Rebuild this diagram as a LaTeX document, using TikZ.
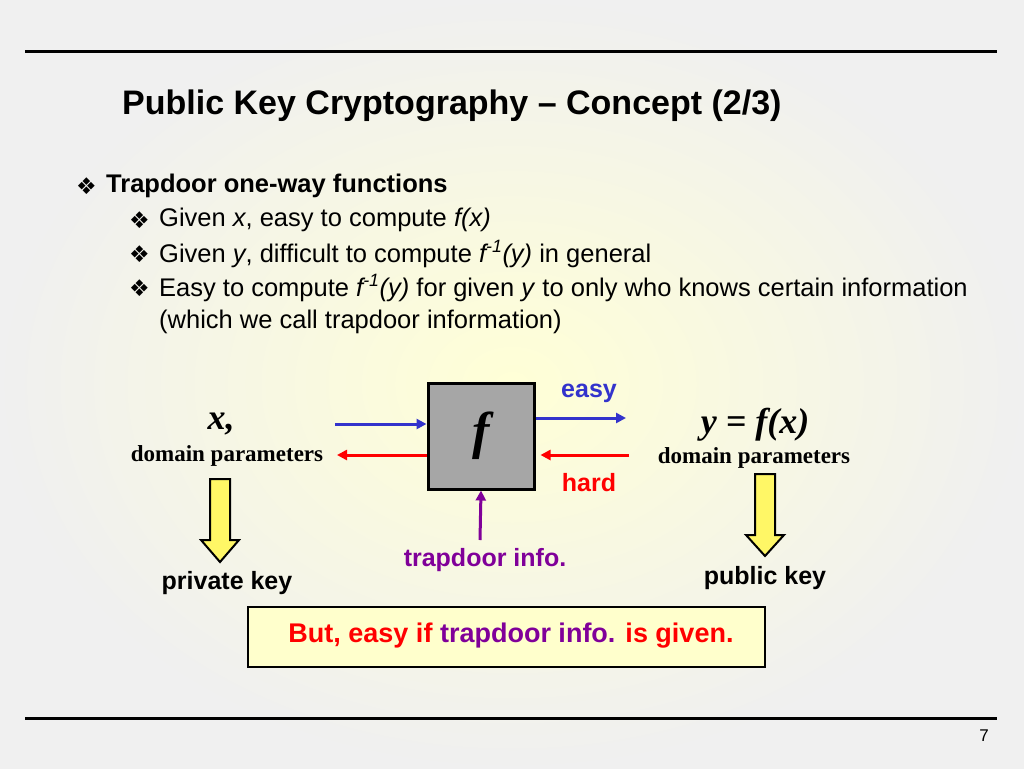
\documentclass[tikz,border=0pt]{standalone}
\usepackage{fontspec}
\setmainfont{Liberation Sans}
\newfontfamily\serifb{Liberation Serif}
\newfontfamily\dejavu{DejaVu Sans}
\usetikzlibrary{arrows.meta}
\definecolor{myblue}{HTML}{3333CC}
\definecolor{myred}{HTML}{FF0000}
\definecolor{mypurple}{HTML}{800099}
\definecolor{boxgray}{HTML}{A6A6A6}
\definecolor{paleyellow}{HTML}{FFFFCC}
\begin{document}
\begin{tikzpicture}[x=1pt,y=-1pt,
  txt/.style={anchor=west,inner sep=0,font=\fontsize{25.5}{30}\selectfont},
  bul/.style={anchor=west,inner sep=0,font=\dejavu\fontsize{23}{26}\selectfont},
  arr/.style={line width=3pt,-{Triangle[length=10pt,width=10pt]}},
  yarrow/.style={draw=black,line width=2pt,fill=yellow!60!white,line join=miter},
  lab/.style={font=\bfseries\fontsize{25}{30}\selectfont,inner sep=0},
  dp/.style={font=\serifb\bfseries\fontsize{23}{27}\selectfont,inner sep=0}]
\useasboundingbox (0,0) rectangle (1024,768);
\shade[inner color=paleyellow!80!white,outer color=gray!12] (0,0) rectangle (1024,768);
\draw[line width=3pt] (25,52) -- (997,52);
\draw[line width=3pt] (25,718) -- (997,718);
\node[anchor=west,inner sep=0,font=\bfseries\fontsize{34}{40}\selectfont] (title) at (122,106) {Public Key Cryptography -- Concept (2/3)};
\node[bul] (b0) at (76,186) {❖};
\node[txt,font=\bfseries\fontsize{25.5}{30}\selectfont] (t0) at (106,186) {Trapdoor one-way functions};
\node[bul] (b1) at (129,220) {❖};
\node[txt] (t1) at (159,220) {Given \textit{x}, easy to compute \textit{f(x)}};
\node[bul] (b2) at (129,254) {❖};
\node[txt] (t2) at (159,254) {Given \textit{y}, difficult to compute \textit{f\textsuperscript{-1}(y)} in general};
\node[bul] (b3) at (129,288) {❖};
\node[txt] (t3) at (159,288) {Easy to compute \textit{f\textsuperscript{-1}(y)} for given \textit{y} to only who knows certain information};
\node[txt] (t4) at (159,322) {(which we call trapdoor information)};
\node[draw=black,line width=3pt,fill=boxgray,minimum width=106pt,minimum height=106pt,inner sep=0] (f) at (481,436) {\serifb\bfseries\itshape\fontsize{52}{56}\selectfont f};
\coordinate (l1) at (335,424); \coordinate (l2) at (337,455);
\coordinate (r1) at (626,418); \coordinate (r2) at (629,455);
\draw[arr,myblue] (l1) -- (l1 -| f.west);
\draw[arr,myblue] (r1 -| f.east) -- (r1);
\draw[arr,myred] (l2 -| f.west) -- (l2);
\draw[arr,myred] (r2) -- ([xshift=5pt]r2 -| f.east);
\node[lab,myblue] (easy) at (589,393) {easy};
\node[lab,myred] (hard) at (589,483) {hard};
\node[font=\serifb\bfseries\itshape\fontsize{36}{40}\selectfont,inner sep=0] (x) at (221,424) {x,};
\node[dp] (dpl) at (227,456) {domain parameters};
\node[font=\serifb\bfseries\itshape\fontsize{36}{40}\selectfont,inner sep=0] (y) at (755,425) {y = f(x)};
\node[dp] (dpr) at (754,458) {domain parameters};
\draw[yarrow] (210,479) -- (230,479) -- (230,540) -- (239,540) -- (220,562) -- (201,540) -- (210,540) -- cycle;
\draw[yarrow] (755,474) -- (775,474) -- (775,535) -- (784,535) -- (765,556) -- (746,535) -- (755,535) -- cycle;
\node[lab,black] (pk) at (227,583) {private key};
\node[lab,black] (pub) at (765,578) {public key};
\node[lab,mypurple] (td) at (485,560) {trapdoor info.};
\draw[arr,mypurple] (480,540) -- (f.south);
\node[draw=black,line width=1.2pt,fill=paleyellow,minimum width=517pt,minimum height=60pt,inner sep=0] (bx) at (506.5,637) {};
\node[lab,myred,font=\bfseries\fontsize{27}{32}\selectfont] (bt) at (511,636) {But, easy if \textcolor{mypurple}{trapdoor info.} is given.};
\node[inner sep=0,font=\fontsize{17}{20}\selectfont] (pg) at (984,736) {7};
\end{tikzpicture}
\end{document}
